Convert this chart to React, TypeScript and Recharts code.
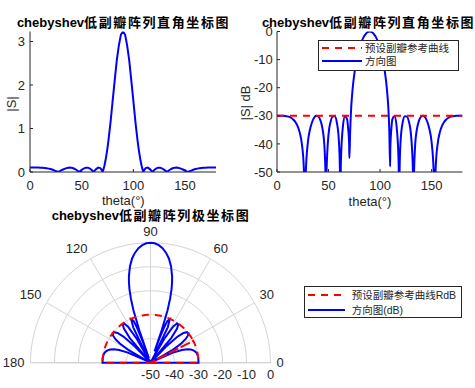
import React from 'react'
import {
  LineChart, Line, XAxis, YAxis, Legend,
  RadarChart, Radar, PolarGrid, PolarAngleAxis, PolarRadiusAxis,
} from 'recharts'

// theta (deg) sampled along the pattern, denser around the nulls
const thetaDeg = [
  0, 2, 4, 6, 8, 10, 12, 14, 16, 18, 20, 22, 24, 26, 27.1, 28, 30, 32, 34, 36, 38, 40, 42, 44, 46, 47, 47.5, 48,
  50, 52, 54, 56, 58, 60, 61, 61.4, 62, 64, 66, 68, 69, 70, 70.25, 71, 72, 73, 74, 75, 76, 78, 80, 82, 84, 86, 88, 90,
  92, 94, 96, 98, 100, 102, 104, 105, 106, 107, 108, 109, 109.75, 110, 111, 112, 114, 116, 118, 118.6, 119, 120,
  122, 124, 126, 128, 130, 132, 132.5, 133, 134, 136, 138, 140, 142, 144, 146, 148, 150, 152, 152.9, 154, 156, 158,
  160, 162, 164, 166, 168, 170, 172, 174, 176, 178, 180,
]

// |S|
const patternAbs = [
  0.102, 0.102, 0.102, 0.102, 0.101, 0.1, 0.098, 0.093, 0.087, 0.078, 0.067, 0.052, 0.033, 0.012, 0, 0.011, 0.035, 0.058, 0.078, 0.094, 0.102, 0.1, 0.086, 0.062, 0.029, 0.01, 0, 0.009,
  0.048, 0.08, 0.099, 0.1, 0.078, 0.038, 0.012, 0, 0.015, 0.067, 0.1, 0.089, 0.062, 0.015, 0, 0.054, 0.144, 0.257, 0.398, 0.555, 0.74, 1.16, 1.64, 2.11, 2.57, 2.91, 3.16, 3.23,
  3.16, 2.91, 2.57, 2.11, 1.64, 1.16, 0.74, 0.555, 0.398, 0.257, 0.144, 0.054, 0, 0.015, 0.062, 0.089, 0.1, 0.067, 0.015, 0, 0.012, 0.038,
  0.078, 0.1, 0.099, 0.08, 0.048, 0.009, 0, 0.01, 0.029, 0.062, 0.086, 0.1, 0.102, 0.094, 0.078, 0.058, 0.035, 0.011, 0, 0.012, 0.033, 0.052,
  0.067, 0.078, 0.087, 0.093, 0.098, 0.1, 0.101, 0.102, 0.102, 0.102, 0.102,
]

// |S| in dB (-60 = null, below the axis)
const patternDb = [
  -30, -30, -30, -30, -30.1, -30.2, -30.4, -30.8, -31.4, -32.3, -33.7, -35.9, -39.7, -48.3, -60, -49.6, -39.3, -34.9, -32.3, -30.7, -30, -30.2, -31.5, -34.3, -40.8, -49.8, -60, -50.9,
  -36.6, -32.1, -30.3, -30.2, -32.3, -38.6, -48.5, -60, -46.5, -33.6, -30.2, -31.2, -34.4, -40, -45, -35.6, -27, -22, -18.2, -15.3, -12.8, -8.9, -5.9, -3.7, -2, -0.9, -0.2, 0,
  -0.2, -0.9, -2, -3.7, -5.9, -8.9, -12.8, -15.3, -18.2, -22, -27, -35.6, -48, -41, -34.4, -31.2, -30.2, -33.6, -46.5, -60, -48.5, -38.6,
  -32.3, -30.2, -30.3, -32.1, -36.6, -50.9, -60, -49.8, -40.8, -34.3, -31.5, -30.2, -30, -30.7, -32.3, -34.9, -39.3, -49.6, -60, -48.3, -39.7, -35.9,
  -33.7, -32.3, -31.4, -30.8, -30.4, -30.2, -30.1, -30, -30, -30, -30,
]

const sidelobeRefDb = -30
const absMax = 3.23
const absTicks = [0, 1, 2, 3]
const dbTicks = [-50, -40, -30, -20, -10, 0]
const thetaTicks = [0, 50, 100, 150]
const polarAngleTicks = [0, 30, 60, 90, 120, 150, 180]
const dbFloor = -50

const FONT = '"Liberation Sans", Arial, "Noto Sans CJK SC", sans-serif'
const AXIS = '#262626'
const BLUE = '#0000ff'
const RED = '#ff0000'
const GRID = '#d4d4d4'

const rows = thetaDeg.map((theta, i) => ({ theta, abs: patternAbs[i], db: patternDb[i], ref: sidelobeRefDb }))

// polar: clip at rlim, and keep the path open (leading gap + a gap at the first null, which sits on the centre)
const clipped = rows.map(r => ({ theta: r.theta, db: Math.max(r.db, dbFloor), ref: r.ref }))
const splitAt = clipped.findIndex(r => r.db === dbFloor)
const polarRows = [
  { theta: 0, db: null, ref: null },
  ...clipped.slice(0, splitAt + 1),
  { theta: clipped[splitAt].theta, db: null, ref: null },
  ...clipped.slice(splitAt),
]
const ringAngles = Array.from({ length: 61 }, (_, i) => i * 3)

const tickFont = { fill: AXIS, fontSize: 13, fontFamily: FONT }

function Title({ x, y, latin, cjk }: { x: number; y: number; latin: string; cjk: string }) {
  return (
    <div style={{ position: 'absolute', left: x, top: y - 7, transform: 'translateX(-50%)', fontWeight: 'bold', fontSize: 13, lineHeight: '14px', fontFamily: FONT, color: '#000', whiteSpace: 'nowrap' }}>
      {latin}<span style={{ letterSpacing: 1.6, fontFamily: '"Noto Sans CJK SC", sans-serif' }}>{cjk}</span>
    </div>
  )
}

function AxisLabel({ x, y, text, rotate }: { x: number; y: number; text: string; rotate?: boolean }) {
  return (
    <div style={{ position: 'absolute', left: x, top: y, transform: `translate(-50%, -50%)${rotate ? ' rotate(-90deg)' : ''}`, fontSize: 13, lineHeight: '12px', fontFamily: FONT, color: AXIS, whiteSpace: 'nowrap' }}>
      {text}
    </div>
  )
}

// dashed reference entry first, like the original legends
function BoxLegend({ payload, width, height, rowH, lineLen, textGap }: any) {
  const isDashed = (e: any) => (e.payload && e.payload.strokeDasharray ? 1 : 0)
  const entries = [...(payload || [])].sort((a, b) => isDashed(b) - isDashed(a))
  return (
    <div style={{ width, height, boxSizing: 'border-box', border: `1px solid ${AXIS}`, background: '#fff', padding: '0.5px 0 0 3px', fontSize: 10.5, fontFamily: FONT, color: AXIS }}>
      {entries.map((e: any) => (
        <div key={e.value} style={{ display: 'flex', alignItems: 'center', height: rowH }}>
          <svg width={lineLen} height={6} style={{ flex: 'none' }}>
            <line x1={0} y1={3} x2={lineLen} y2={3} stroke={e.color} strokeWidth={2} strokeDasharray={isDashed(e) ? e.payload.strokeDasharray : undefined} />
          </svg>
          <span style={{ marginLeft: textGap, whiteSpace: 'nowrap', lineHeight: '12px' }}>{e.value}</span>
        </div>
      ))}
    </div>
  )
}

const angleTick = (p: any) => {
  const v = p.payload.value
  const flat = v === 0 || v === 180
  return (
    <text x={p.x} y={p.y + (flat ? 0 : -5.5)} textAnchor={p.textAnchor} dominantBaseline="central" {...tickFont}>{v}</text>
  )
}

const radiusTick = (p: any) => (
  <text x={p.x} y={p.y + 11.5} textAnchor="middle" dominantBaseline="central" {...tickFont}>{String(p.payload.value)}</text>
)

export default function App() {
  return (
    <div style={{ position: 'absolute', left: 0, top: 0, width: 475, height: 388, background: '#fff', overflow: 'hidden' }}>
      {/* linear |S| */}
      <div style={{ position: 'absolute', left: 0, top: 0 }}>
        <LineChart width={240} height={215} data={rows} margin={{ top: 31.5, right: 24, bottom: 0, left: 0 }}>
          <XAxis dataKey="theta" type="number" domain={[0, 180]} ticks={thetaTicks} interval={0} allowDataOverflow height={43} tickSize={-3} tickMargin={11.3} stroke={AXIS} tick={tickFont} />
          <XAxis xAxisId="top" orientation="top" dataKey="theta" type="number" domain={[0, 180]} ticks={thetaTicks} allowDataOverflow height={0} tickSize={-3} tick={false} stroke={AXIS} />
          <YAxis type="number" domain={[0, absMax]} ticks={absTicks} interval={0} allowDataOverflow width={30} tickSize={-3} tickMargin={8} stroke={AXIS} tick={tickFont} />
          <YAxis yAxisId="right" orientation="right" type="number" domain={[0, absMax]} ticks={absTicks} allowDataOverflow width={0} tickSize={-3} tick={false} stroke={AXIS} />
          <Line type="linear" dataKey="abs" stroke={BLUE} strokeWidth={2} dot={false} isAnimationActive={false} />
        </LineChart>
      </div>

      {/* |S| dB */}
      <div style={{ position: 'absolute', left: 235, top: 0 }}>
        <LineChart width={240} height={215} data={rows} margin={{ top: 31.5, right: 12.5, bottom: 0, left: 0 }}>
          <XAxis dataKey="theta" type="number" domain={[0, 180]} ticks={thetaTicks} interval={0} allowDataOverflow height={43} tickSize={-3} tickMargin={11.3} stroke={AXIS} tick={tickFont} />
          <XAxis xAxisId="top" orientation="top" dataKey="theta" type="number" domain={[0, 180]} ticks={thetaTicks} allowDataOverflow height={0} tickSize={-3} tick={false} stroke={AXIS} />
          <YAxis type="number" domain={[dbFloor, 0]} ticks={dbTicks} interval={0} allowDataOverflow width={42} tickSize={-3} tickMargin={7.3} stroke={AXIS} tick={tickFont} />
          <YAxis yAxisId="right" orientation="right" type="number" domain={[dbFloor, 0]} ticks={dbTicks} allowDataOverflow width={0} tickSize={-3} tick={false} stroke={AXIS} />
          <Line type="monotone" dataKey="db" name="方向图" stroke={BLUE} strokeWidth={2} dot={false} isAnimationActive={false} />
          <Line type="linear" dataKey="ref" name="预设副瓣参考曲线" stroke={RED} strokeWidth={2} strokeDasharray="7 6" dot={false} isAnimationActive={false} />
          <Legend layout="vertical" align="center" verticalAlign="middle" wrapperStyle={{ left: 83, top: 40 }}
            content={(p: any) => <BoxLegend payload={p.payload} width={141} height={31} rowH={13.3} lineLen={40} textGap={3} />} />
        </LineChart>
      </div>

      {/* polar, dB */}
      <div style={{ position: 'absolute', left: 0, top: 200 }}>
        <RadarChart width={475} height={188} data={polarRows} cx={150.5} cy={162.7} outerRadius={120} innerRadius={0} startAngle={0} endAngle={180} margin={{ top: 0, right: 0, bottom: 0, left: 0 }}>
          <PolarGrid gridType="polygon" polarAngles={ringAngles} radialLines={false} stroke={GRID} />
          <PolarGrid gridType="polygon" polarRadius={[]} stroke={GRID} />
          <PolarAngleAxis dataKey="theta" type="number" scale="linear" domain={[0, 180]} ticks={polarAngleTicks} axisLine={false} tickLine={false} tickSize={6} tick={angleTick} />
          <PolarRadiusAxis angle={0} type="number" domain={[dbFloor, 0]} ticks={dbTicks} tickCount={6} axisLine={false} tick={radiusTick} />
          <Radar dataKey="db" name="方向图(dB)" stroke={BLUE} strokeWidth={2} fill="none" fillOpacity={0} dot={false} isAnimationActive={false} />
          <Radar dataKey="ref" name="预设副瓣参考曲线RdB" stroke={RED} strokeWidth={2} strokeDasharray="7 6" fill="none" fillOpacity={0} dot={false} isAnimationActive={false} />
          <Legend layout="vertical" align="center" verticalAlign="middle" wrapperStyle={{ left: 304, top: 86 }}
            content={(p: any) => <BoxLegend payload={p.payload} width={158} height={32} rowH={15} lineLen={37} textGap={6.7} />} />
        </RadarChart>
      </div>

      <Title x={123.5} y={22} latin="chebyshev" cjk="低副瓣阵列直角坐标图" />
      <Title x={368.5} y={22} latin="chebyshev" cjk="低副瓣阵列直角坐标图" />
      <AxisLabel x={123.3} y={201} text="theta(°)" />
      <AxisLabel x={370} y={202} text="theta(°)" />
      <AxisLabel x={11.5} y={104} text="|S|" rotate />
      <AxisLabel x={246} y={103} text="|S| dB" rotate />
      <Title x={151} y={214.5} latin="chebyshev" cjk="低副瓣阵列极坐标图" />
    </div>
  )
}
